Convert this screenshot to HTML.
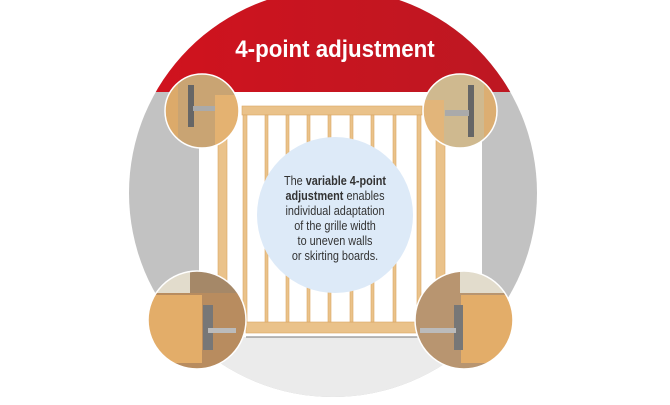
<!DOCTYPE html>
<html><head><style>
body{margin:0;width:670px;height:400px;overflow:hidden;background:#fff;font-family:"Liberation Sans",sans-serif}
</style></head><body>
<svg width="670" height="400" viewBox="0 0 670 400">
<defs>
<clipPath id="big"><circle cx="333" cy="193" r="204"/></clipPath>
<clipPath id="c1"><circle cx="202" cy="111" r="37"/></clipPath>
<clipPath id="c2"><circle cx="460" cy="111" r="37"/></clipPath>
<clipPath id="c3"><circle cx="197" cy="320" r="49"/></clipPath>
<clipPath id="c4"><circle cx="464" cy="320" r="49"/></clipPath>
<linearGradient id="red" x1="0" x2="1"><stop offset="0" stop-color="#d8101c"/><stop offset="1" stop-color="#b51a24"/></linearGradient>
</defs>
<g clip-path="url(#big)">
<rect x="0" y="-20" width="670" height="440" fill="#c2c2c2"/>
<rect x="0" y="-20" width="670" height="112" fill="url(#red)"/>
<rect x="199" y="92" width="283" height="245" fill="#fff"/>
<rect x="199" y="337" width="283" height="80" fill="#ebebeb"/>
</g>
<g fill="#eac28a" stroke="#d9a664" stroke-width="0.6">
<rect x="218" y="100" width="9" height="190"/>
<rect x="436" y="100" width="9" height="190"/>
<rect x="242" y="106" width="180" height="9"/>
<rect x="246" y="322" width="172" height="11"/>
<rect x="243" y="115" width="4" height="207"/>
<rect x="417" y="115" width="4" height="207"/>
<rect x="265" y="115" width="3" height="207"/>
<rect x="286" y="115" width="3" height="207"/>
<rect x="307" y="115" width="3" height="207"/>
<rect x="328" y="115" width="3" height="207"/>
<rect x="350" y="115" width="3" height="207"/>
<rect x="371" y="115" width="3" height="207"/>
<rect x="393" y="115" width="3" height="207"/>
</g>
<line x1="246" y1="337" x2="418" y2="337" stroke="#777" stroke-width="1"/>
<circle cx="335" cy="215" r="78" fill="#ddeaf8"/>
<g transform="translate(335,0) scale(0.93,1) translate(-335,0)">
<text x="335" y="57" fill="#fff" font-size="24" font-weight="bold" text-anchor="middle">4-point adjustment</text>
</g>
<g transform="translate(335,0) scale(0.87,1) translate(-335,0)" font-size="12.5" fill="#333" text-anchor="middle">
<text x="335" y="185">The <tspan font-weight="bold">variable 4-point</tspan></text>
<text x="335" y="200"><tspan font-weight="bold">adjustment</tspan> enables</text>
<text x="335" y="215">individual adaptation</text>
<text x="335" y="230">of the grille width</text>
<text x="335" y="245">to uneven walls</text>
<text x="335" y="260">or skirting boards.</text>
</g>
<g clip-path="url(#c1)">
<rect x="160" y="70" width="90" height="90" fill="#c9a473"/>
<rect x="160" y="70" width="18" height="90" fill="#dcaa6a"/>
<rect x="215" y="95" width="30" height="60" fill="#e4b271"/>
<rect x="188" y="85" width="6" height="42" fill="#666"/>
<rect x="193" y="106" width="22" height="5" fill="#aaa"/>
</g>
<g clip-path="url(#c2)">
<rect x="420" y="70" width="90" height="90" fill="#cfb98f"/>
<rect x="484" y="70" width="20" height="90" fill="#dcae72"/>
<rect x="420" y="100" width="24" height="50" fill="#e2b57a"/>
<rect x="468" y="85" width="6" height="52" fill="#666"/>
<rect x="445" y="110" width="24" height="6" fill="#aaa"/>
</g>
<g clip-path="url(#c3)">
<rect x="140" y="265" width="110" height="110" fill="#b88c5f"/>
<rect x="140" y="265" width="110" height="28" fill="#e2dccc"/>
<rect x="190" y="265" width="60" height="28" fill="#a58868"/>
<rect x="140" y="295" width="62" height="68" fill="#e3ad69"/>
<rect x="203" y="305" width="10" height="45" fill="#777"/>
<rect x="208" y="328" width="28" height="5" fill="#bbb"/>
</g>
<g clip-path="url(#c4)">
<rect x="410" y="265" width="110" height="110" fill="#b89570"/>
<rect x="460" y="265" width="60" height="28" fill="#e2dccc"/>
<rect x="461" y="295" width="60" height="68" fill="#e3ad69"/>
<rect x="454" y="305" width="9" height="45" fill="#777"/>
<rect x="420" y="328" width="36" height="5" fill="#bbb"/>
</g>
<g stroke="#fff" stroke-width="1.5" fill="none">
<circle cx="202" cy="111" r="37"/>
<circle cx="460" cy="111" r="37"/>
<circle cx="197" cy="320" r="49"/>
<circle cx="464" cy="320" r="49"/>
</g>
</svg>
</body></html>
